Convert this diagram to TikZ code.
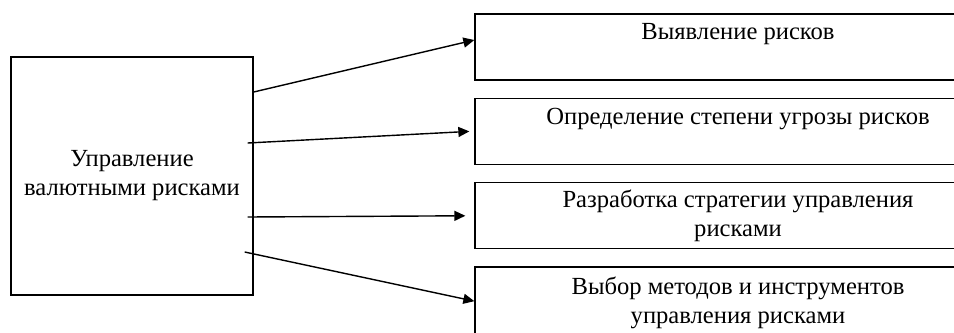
\documentclass[tikz,border=0pt]{standalone}
\usepackage{fontspec}
\setmainfont{Liberation Serif}
\usetikzlibrary{positioning,arrows.meta}
\begin{document}
\begin{tikzpicture}[x=0.02cm,y=0.02cm,line width=0.8pt,
		node distance=0.34cm,
		font=\fontsize{14}{16.5}\selectfont,
		mainbox/.style={draw,minimum width=4.84cm,minimum height=4.76cm,align=center,inner sep=0},
		riskbox/.style={draw,minimum width=10.52cm,minimum height=1.32cm,inner sep=0},
		risktext/.style={anchor=north,align=center,inner sep=0},
		to box/.style={-{Triangle[length=2.2mm,width=2mm]}}]
		\useasboundingbox (0,0) rectangle (954,-332);
		\clip (0,0) rectangle (954,-332);
		\node[mainbox] (ctrl) at (132,-176) {Управление\\валютными рисками};
		\node[riskbox] (b1) at (738,-47) {};
		\node[riskbox,below=of b1] (b2) {};
		\node[riskbox,below=of b2] (b3) {};
		\node[riskbox,minimum height=1.6cm,below=of b3] (b4) {};
		\node[risktext] (t1) at ([yshift=-0.18cm]b1.north) {Выявление рисков};
		\node[risktext] (t2) at ([yshift=-0.2cm]b2.north) {Определение степени угрозы рисков};
		\node[risktext] (t3) at ([yshift=-0.14cm]b3.north) {Разработка стратегии управления\\рисками};
		\node[risktext] (t4) at ([yshift=-0.2cm]b4.north) {Выбор методов и инструментов\\управления рисками};
		\draw[to box] ([shift={(0,84)}]ctrl.east) -- ([shift={(0,7)}]b1.west);
		\draw[to box] ([shift={(-6,33)}]ctrl.east) -- ([shift={(-5,0)}]b2.west);
		\draw[to box] ([shift={(-6,-41)}]ctrl.east) -- ([shift={(-9,0)}]b3.west);
		\draw[to box] ([shift={(-9,-76)}]ctrl.east) -- ([shift={(0,6)}]b4.west);
\end{tikzpicture}
\end{document}
